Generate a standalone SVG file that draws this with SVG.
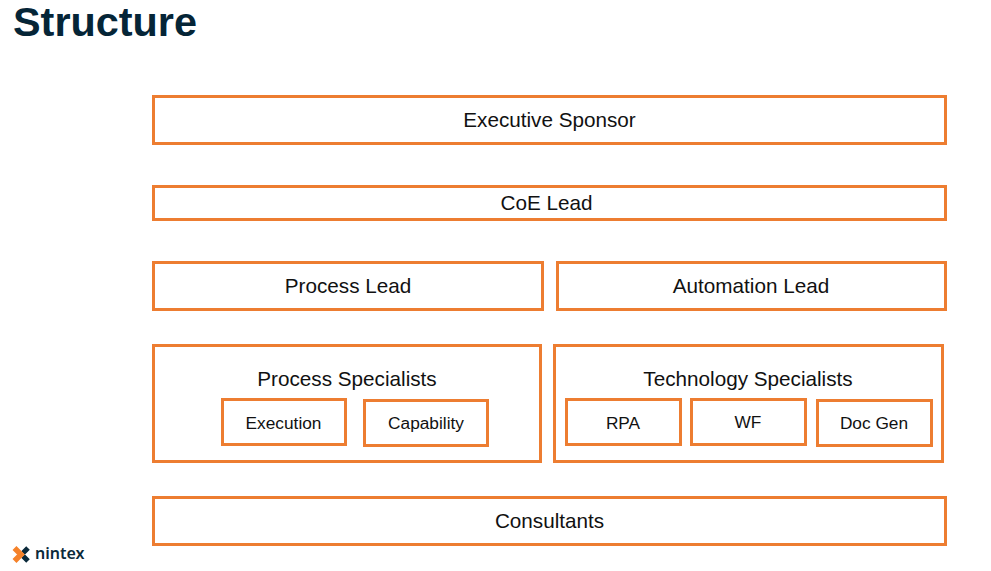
<svg xmlns="http://www.w3.org/2000/svg" width="991" height="571" viewBox="0 0 991 571">
<style>
text{font-family:"Liberation Sans",Arial,sans-serif;fill:#111;text-anchor:middle}
.b{fill:#fff;stroke:#ED7D31;stroke-width:3}
.l{font-size:20.700px}
.s{font-size:17.300px}
</style>
<rect width="991" height="571" fill="#fff"/>
<text x="13" y="35.500" style="font-size:41.400px;font-weight:bold;fill:#052537;text-anchor:start">Structure</text>
<g id="connectors"/>
<g id="executive-sponsor"><rect class="b" x="153.500" y="96.500" width="792" height="47"/><text class="l" x="549.500" y="127">Executive Sponsor</text></g>
<g id="coe-lead"><rect class="b" x="153.500" y="186.500" width="792" height="33"/><text class="l" x="546.500" y="210">CoE Lead</text></g>
<g id="process-lead"><rect class="b" x="153.500" y="262.500" width="389" height="47"/><text class="l" x="348" y="293">Process Lead</text></g>
<g id="automation-lead"><rect class="b" x="557.500" y="262.500" width="388" height="47"/><text class="l" x="751" y="293">Automation Lead</text></g>
<g id="process-specialists"><rect class="b" x="153.500" y="345.500" width="387" height="116"/><text class="l" x="347" y="386">Process Specialists</text></g>
<g id="execution"><rect class="b" x="222.500" y="399.500" width="123" height="45"/><text class="s" x="283.500" y="429">Execution</text></g>
<g id="capability"><rect class="b" x="364.500" y="400.500" width="123" height="45"/><text class="s" x="426" y="429">Capability</text></g>
<g id="technology-specialists"><rect class="b" x="554.500" y="345.500" width="388" height="116"/><text class="l" x="748" y="386">Technology Specialists</text></g>
<g id="rpa"><rect class="b" x="566.500" y="399.500" width="114" height="45"/><text class="s" x="623" y="429">RPA</text></g>
<g id="wf"><rect class="b" x="691.500" y="399.500" width="114" height="45"/><text class="s" x="748" y="428">WF</text></g>
<g id="doc-gen"><rect class="b" x="817.500" y="400.500" width="114" height="45"/><text class="s" x="874" y="429">Doc Gen</text></g>
<g id="consultants"><rect class="b" x="153.500" y="497.500" width="792" height="47"/><text class="l" x="549.500" y="528">Consultants</text></g>
<g id="nintex-logo">
<path d="M28 548L23 553M23 556L28 561" fill="none" stroke="#0B2A3B" stroke-width="5"/>
<path d="M14.500 548L21 554.500L14.500 561" fill="none" stroke="#F5822A" stroke-width="5.500"/>
<text x="35" y="559" style="font-size:16px;font-weight:600;fill:#0B2A3B;text-anchor:start;font-family:'Noto Sans','Liberation Sans',sans-serif">nintex</text>
</g>
</svg>
